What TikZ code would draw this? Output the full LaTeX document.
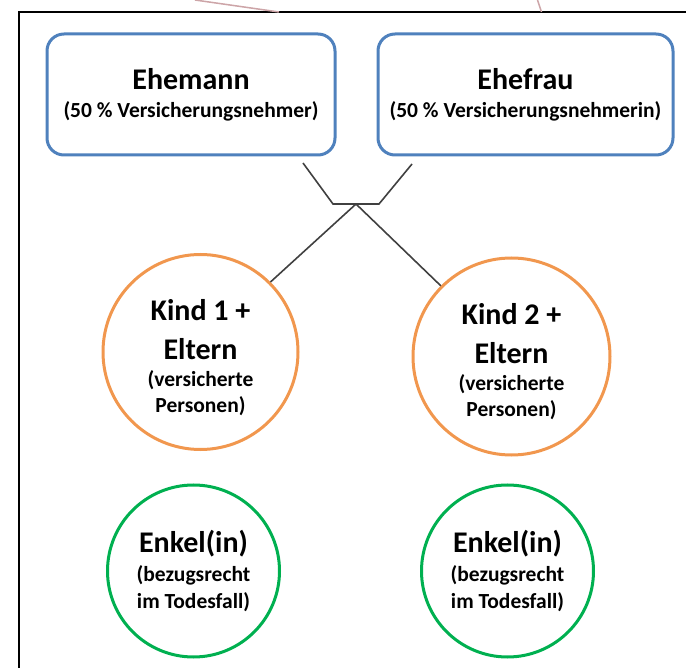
\documentclass[tikz,border=0pt]{standalone}
\usepackage{fontspec}
\setmainfont{Carlito}
\definecolor{boxblue}{RGB}{79,129,189}
\definecolor{kidorange}{RGB}{241,151,78}
\definecolor{grandgreen}{RGB}{0,176,80}
\definecolor{linkgray}{RGB}{64,64,64}
\definecolor{straypink}{RGB}{205,165,168}
\tikzset{
  bigfont/.style={font=\bfseries\fontsize{30}{39}\selectfont},
  partnerbox/.style={draw=boxblue, line width=3pt, rounded corners=17pt, rectangle,
    minimum height=121pt, inner sep=0pt, align=center, bigfont},
  kidcircle/.style={draw=kidorange, line width=3pt, circle, inner sep=0pt,
    align=center, bigfont},
  grandcircle/.style={draw=grandgreen, line width=3pt, circle, inner sep=0pt,
    minimum size=172pt, align=center, bigfont},
  link/.style={draw=linkgray, line width=1.6pt},
}
\newcommand{\smalltxt}{\fontsize{21.5}{26}\selectfont\bfseries}
\newcommand{\topstrut}[1]{\rule{0pt}{#1}}
\begin{document}
\begin{tikzpicture}[x=1pt,y=-1pt]
\useasboundingbox (0,0) rectangle (686,668);
% frame (left and top edges)
\draw[black, line width=2pt] (19,668) -- (19,12) -- (686,12);
% stray lines above the frame
\draw[straypink, line width=1.5pt] (195,0) -- (279,12);
\draw[straypink, line width=1.5pt] (537.5,0) -- (541.5,12);
% partners
\node[partnerbox, minimum width=288pt] (ehemann) at (191,94.5)
  {Ehemann\\[-11pt]{\smalltxt (50 \% Versicherungsnehmer)}};
\node[partnerbox, minimum width=295pt] (ehefrau) at (525.5,94.5)
  {Ehefrau\\[-11pt]{\smalltxt (50 \% Versicherungsnehmerin)}};
% children
\node[kidcircle, minimum size=195pt] (kind1) at (200.5,352)
  {\topstrut{33pt}Kind 1 +\\Eltern\\[-12pt]{\smalltxt (versicherte}\\[-13pt]{\smalltxt Personen)}};
\node[kidcircle, minimum size=197pt] (kind2) at (511.5,356.5)
  {\topstrut{32pt}Kind 2 +\\Eltern\\[-12pt]{\smalltxt (versicherte}\\[-13pt]{\smalltxt Personen)}};
% grandchildren
\node[grandcircle] (enkel1) at (193.5,571)
  {Enkel(in)\\[-9.5pt]{\smalltxt (bezugsrecht}\\[-12pt]{\smalltxt im Todesfall)}};
\node[grandcircle] (enkel2) at (507.5,571)
  {Enkel(in)\\[-9.5pt]{\smalltxt (bezugsrecht}\\[-12pt]{\smalltxt im Todesfall)}};
% connectors
\coordinate (lefttop) at (303,163);
\coordinate (leftbot) at (333,204);
\coordinate (rightbot) at (379,204);
\coordinate (righttop) at (412,164);
\coordinate (junction) at (356,204);
\draw[link] (lefttop) -- (leftbot) -- (rightbot) -- (righttop);
\draw[link] (junction) -- (kind1.45);
\draw[link] (junction) -- (kind2.135);
\end{tikzpicture}
\end{document}
